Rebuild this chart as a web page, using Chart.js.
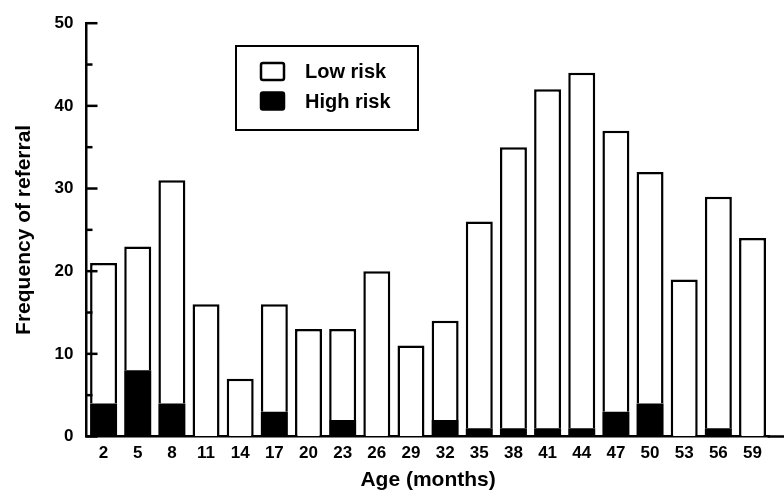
<!DOCTYPE html>
<html><head><meta charset="utf-8">
<script src="https://cdn.jsdelivr.net/npm/chart.js@4"></script>
<style>html,body{margin:0;padding:0;background:#fff}#wrap{width:784px;height:493px}</style>
</head><body><div id="wrap"><canvas id="c" width="784" height="493"></canvas></div>
<script>
const ages = ['2','5','8','11','14','17','20','23','26','29','32','35','38','41','44','47','50','53','56','59'];
const lowRisk = [17,15,27,16,7,13,13,11,20,11,12,25,34,41,43,34,28,19,28,24];
const highRisk = [4,8,4,0,0,3,0,2,0,0,2,1,1,1,1,3,4,0,1,0];
const yMin = 0, yMax = 50, yMajorStep = 10, yMinorStep = 5;
const seriesLabels = ['Low risk', 'High risk'];
const xTitle = 'Age (months)';
const yTitle = 'Frequency of referral';

const FONT = '"Liberation Sans", Arial, Helvetica, sans-serif';
const INK = '#000';

const inwardTicks = {
  id: 'inwardTicks',
  afterDraw(chart) {
    const y = chart.scales.y, ctx = chart.ctx, left = chart.chartArea.left;
    ctx.save();
    ctx.strokeStyle = INK; ctx.lineWidth = 2.5; ctx.lineCap = 'butt';
    y.ticks.forEach(t => {
      const py = y.getPixelForValue(t.value);
      const len = (t.value % yMajorStep === 0) ? 11 : 6;
      ctx.beginPath(); ctx.moveTo(left - 1, py); ctx.lineTo(left + len, py); ctx.stroke();
    });
    const by = y.getPixelForValue(0);
    ctx.beginPath(); ctx.moveTo(chart.chartArea.right - 2, by); ctx.lineTo(chart.width, by); ctx.stroke();
    ctx.restore();
  }
};

const boxLegend = {
  id: 'boxLegend',
  afterDraw(chart) {
    const ctx = chart.ctx;
    ctx.save();
    ctx.strokeStyle = INK; ctx.lineWidth = 2;
    ctx.strokeRect(236, 46, 182, 84);
    const order = [1, 0];
    const rows = [71.5, 101];
    order.forEach((di, i) => {
      const ds = chart.data.datasets[di];
      const cy = rows[i];
      ctx.fillStyle = ds.backgroundColor;
      ctx.strokeStyle = INK;
      ctx.lineWidth = 2.5;
      ctx.beginPath();
      ctx.roundRect(261, cy - 8.5, 23, 17, 2);
      ctx.fill(); ctx.stroke();
      ctx.fillStyle = INK;
      ctx.font = 'bold 20px ' + FONT;
      ctx.textBaseline = 'middle'; ctx.textAlign = 'left';
      ctx.fillText(ds.label, 305, cy + 1);
    });
    ctx.restore();
  }
};

new Chart(document.getElementById('c'), {
  type: 'bar',
  data: {
    labels: ages,
    datasets: [
      { label: seriesLabels[1], data: highRisk, backgroundColor: '#000', borderColor: INK, borderWidth: 0, borderSkipped: false, inflateAmount: 0 },
      { label: seriesLabels[0], data: lowRisk, backgroundColor: '#fff', borderColor: INK, borderWidth: 2.5, borderSkipped: 'bottom', inflateAmount: 0 }
    ]
  },
  options: {
    responsive: false, animation: false,
    devicePixelRatio: 1,
    layout: { padding: { top: 19, right: 14.4, left: 0, bottom: 0 } },
    datasets: { bar: { barPercentage: 0.79, categoryPercentage: 1 } },
    plugins: { legend: { display: false }, tooltip: { enabled: false } },
    scales: {
      x: {
        stacked: true, offset: true,
        grid: { display: true, drawOnChartArea: false, drawTicks: false },
        border: { display: true, color: INK, width: 2.5 },
        ticks: { color: INK, padding: 6.5, maxRotation: 0, autoSkip: false,
                 font: { family: FONT, size: 17, weight: 'bold' } },
        title: { display: true, text: xTitle, color: INK, padding: { top: 0, bottom: 0.5 },
                 font: { family: FONT, size: 21, weight: 'bold' } },
        afterFit(s) { s.height = 56.5; }
      },
      y: {
        stacked: true, min: yMin, max: yMax,
        grid: { display: true, drawOnChartArea: false, drawTicks: false },
        border: { display: true, color: INK, width: 2.5 },
        ticks: { stepSize: yMinorStep, color: INK, padding: 13,
                 callback: v => (v % yMajorStep === 0 ? String(v) : ''),
                 font: { family: FONT, size: 17, weight: 'bold' } },
        title: { display: true, text: yTitle, color: INK, padding: { top: 11.5, bottom: 0 },
                 font: { family: FONT, size: 21, weight: 'bold' } },
        afterFit(s) { s.width = 86.5; }
      }
    }
  },
  plugins: [inwardTicks, boxLegend]
});
</script>
</body></html>
